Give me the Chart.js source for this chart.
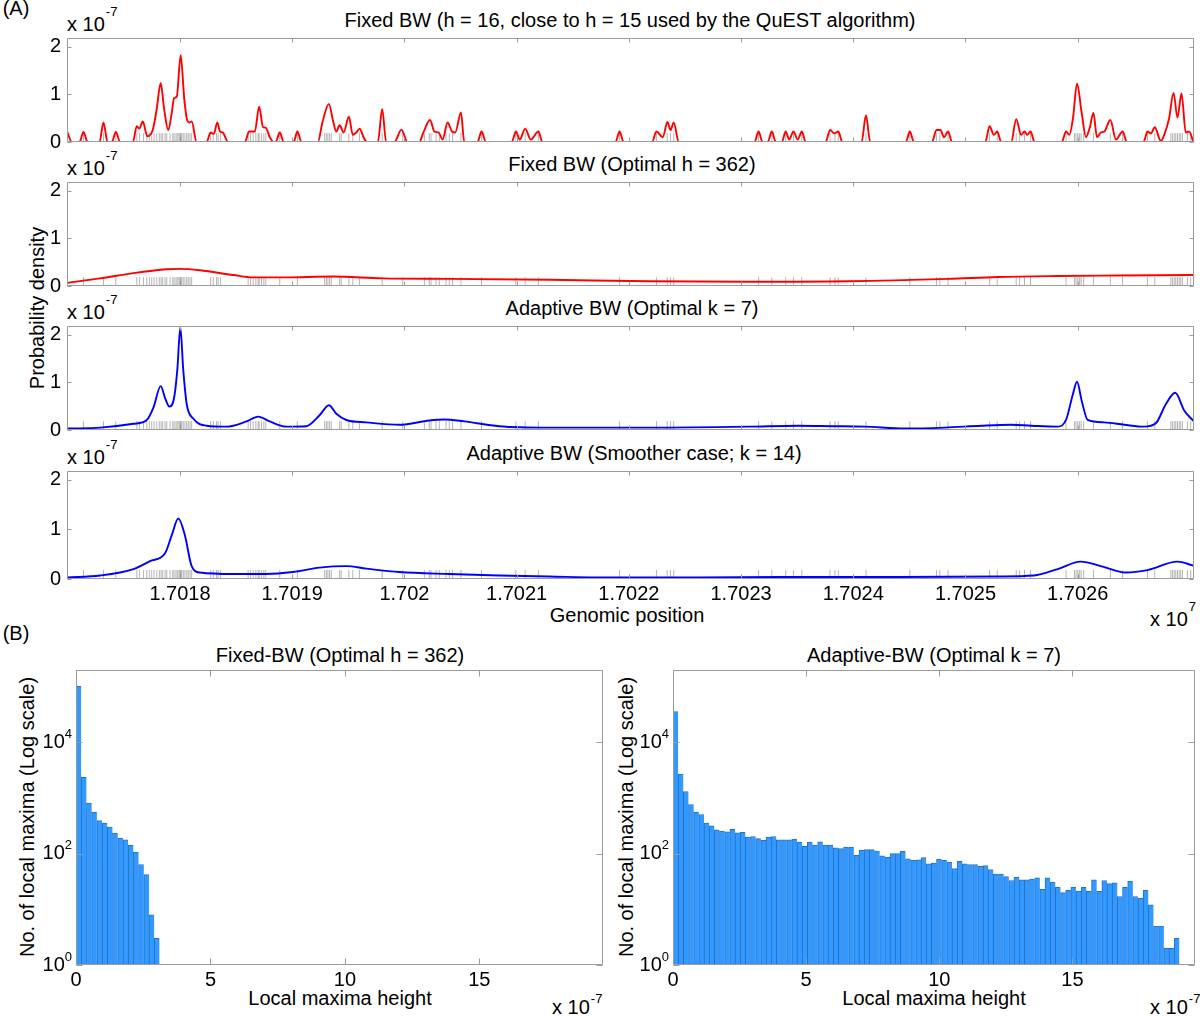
<!DOCTYPE html>
<html lang="en">
<head>
<meta charset="UTF-8">
<title>Kernel density estimates and local maxima</title>
<style>
  body {
    margin: 0;
    width: 1200px;
    height: 1016px;
    position: relative;
    overflow: hidden;
    background: #fff;
    color: #000;
    font-family: "Liberation Sans", Arial, sans-serif;
  }
  canvas { position: absolute; }
  .t {
    position: absolute;
    font-size: 20px;
    line-height: 1;
    white-space: nowrap;
    transform: translate(-50%, -50%);
  }
  .rot { transform: translate(-50%, -50%) rotate(-90deg); }
  .mult {
    position: absolute;
    font-size: 20px;
    line-height: 1;
    white-space: nowrap;
  }
  .mult .sup {
    font-size: 13px;
    position: relative;
    top: -15px;
    margin-left: 1px;
  }
  .mult.small .sup { top: -11px; }
</style>
</head>
<body>
  <div class="t" style="left:16px;top:8px">(A)</div>
  <div class="t" style="left:16px;top:633px">(B)</div>

  <div class="t" style="left:630px;top:20px">Fixed BW (h = 16, close to h = 15 used by the QuEST algorithm)</div>
  <div class="t" style="left:632px;top:164px">Fixed BW (Optimal h = 362)</div>
  <div class="t" style="left:632px;top:308px">Adaptive BW (Optimal k = 7)</div>
  <div class="t" style="left:634px;top:453px">Adaptive BW (Smoother case; k = 14)</div>

  <div class="mult" style="left:67px;top:14px">x 10<span class="sup">-7</span></div>
  <div class="mult" style="left:67px;top:158px">x 10<span class="sup">-7</span></div>
  <div class="mult" style="left:67px;top:302px">x 10<span class="sup">-7</span></div>
  <div class="mult" style="left:67px;top:447px">x 10<span class="sup">-7</span></div>

  <div class="t rot" style="left:37px;top:308px">Probability density</div>
  <div class="t" style="left:627px;top:615px">Genomic position</div>
  <div class="mult" style="left:1150px;top:609px">x 10<span class="sup">7</span></div>

  <div class="t" style="left:340px;top:655px">Fixed-BW (Optimal h = 362)</div>
  <div class="t" style="left:934px;top:655px">Adaptive-BW (Optimal k = 7)</div>
  <div class="t rot" style="left:27px;top:817px">No. of local maxima (Log scale)</div>
  <div class="t rot" style="left:626px;top:817px">No. of local maxima (Log scale)</div>
  <div class="t" style="left:340px;top:998px">Local maxima height</div>
  <div class="t" style="left:934px;top:998px">Local maxima height</div>
  <div class="mult small" style="left:552px;top:997px">x 10<span class="sup">-7</span></div>
  <div class="mult small" style="left:1150px;top:997px">x 10<span class="sup">-7</span></div>

  <script src="https://cdn.jsdelivr.net/npm/chart.js@4"></script>
  <script>
    // ---- data (densities in units of 1e-7, positions in bp) ----
    const xTicks = [17018000, 17019000, 17020000, 17021000, 17022000, 17023000, 17024000, 17025000, 17026000];
    const xTickLabels = ['1.7018', '1.7019', '1.702', '1.7021', '1.7022', '1.7023', '1.7024', '1.7025', '1.7026'];
    const yTicks = [0, 1, 2];

    // mapped reads (rug under every panel)
    const readPos = [
      17016993, 17017140, 17017318, 17017428, 17017615, 17017638, 17017674, 17017704, 17017727, 17017748,
      17017769, 17017793, 17017816, 17017831, 17017846, 17017867, 17017882, 17017911, 17017935, 17017947,
      17017964, 17017976, 17017991, 17018000, 17018006, 17018015, 17018029, 17018044, 17018060, 17018074,
      17018089, 17018104, 17018273, 17018296, 17018326, 17018340, 17018362, 17018607, 17018628, 17018652,
      17018676, 17018696, 17018705, 17018726, 17018747, 17018764, 17018889, 17019046, 17019289, 17019304,
      17019318, 17019333, 17019348, 17019422, 17019437, 17019505, 17019540, 17019600, 17019802, 17019985,
      17020178, 17020222, 17020237, 17020282, 17020311, 17020371, 17020400, 17020429, 17020504, 17020687,
      17020993, 17021076, 17021194, 17021917, 17022246, 17022341, 17022371, 17022400, 17023156, 17023274,
      17023398, 17023467, 17023541, 17023793, 17023837, 17023867, 17024113, 17024504, 17024741, 17024771,
      17024845, 17025215, 17025283, 17025452, 17025482, 17025526, 17025580, 17025896, 17025971, 17025985,
      17026000, 17026015, 17026030, 17026053, 17026140, 17026291, 17026400, 17026622, 17026687, 17026830,
      17026845, 17026860, 17026874, 17026889, 17026904, 17026918, 17026933, 17026978, 17027007
    ];

    // Fixed BW, h = 16
    const fixedH16 = [
      [17016993, 0.22], [17017037, 0], [17017105, 0], [17017140, 0.21], [17017176, 0], [17017283, 0],
      [17017318, 0.41], [17017354, 0], [17017393, 0], [17017428, 0.21], [17017467, 0], [17017580, 0],
      [17017615, 0.33], [17017638, 0.28], [17017668, 0.43], [17017709, 0.12], [17017757, 0.25], [17017793, 0.7],
      [17017828, 1.24], [17017858, 0.7], [17017896, 0.25], [17017926, 0.6], [17017947, 0.92], [17017971, 0.95],
      [17018006, 1.82], [17018038, 0.9], [17018065, 0.45], [17018083, 0.41], [17018104, 0.43], [17018148, 0],
      [17018237, 0], [17018273, 0.2], [17018302, 0.17], [17018332, 0.41], [17018356, 0.22], [17018380, 0.2],
      [17018429, 0], [17018578, 0], [17018616, 0.22], [17018667, 0.22], [17018705, 0.74], [17018740, 0.31],
      [17018764, 0.3], [17018800, 0.1], [17018836, 0], [17018853, 0], [17018889, 0.2], [17018924, 0],
      [17019013, 0], [17019046, 0.22], [17019082, 0], [17019229, 0], [17019268, 0.4], [17019327, 0.8],
      [17019363, 0.45], [17019393, 0.22], [17019422, 0.35], [17019458, 0.2], [17019505, 0.53], [17019540, 0.15],
      [17019571, 0.2], [17019600, 0.28], [17019636, 0.1], [17019665, 0], [17019763, 0], [17019802, 0.69],
      [17019837, 0], [17019911, 0], [17019973, 0.26], [17020027, 0], [17020133, 0], [17020169, 0.2],
      [17020228, 0.46], [17020267, 0.22], [17020305, 0.2], [17020340, 0.05], [17020385, 0.41], [17020424, 0.22],
      [17020453, 0.2], [17020504, 0.62], [17020533, 0], [17020652, 0], [17020687, 0.22], [17020726, 0],
      [17020957, 0], [17020993, 0.22], [17021028, 0.05], [17021076, 0.28], [17021126, 0.05], [17021194, 0.22],
      [17021229, 0], [17021882, 0], [17021917, 0.22], [17021953, 0], [17022207, 0], [17022246, 0.22],
      [17022302, 0.1], [17022344, 0.42], [17022371, 0.25], [17022400, 0.41], [17022445, 0], [17023120, 0],
      [17023156, 0.22], [17023191, 0], [17023238, 0], [17023274, 0.22], [17023309, 0], [17023363, 0],
      [17023398, 0.22], [17023429, 0.05], [17023467, 0.22], [17023505, 0.05], [17023541, 0.22], [17023576, 0],
      [17023754, 0], [17023793, 0.25], [17023831, 0.18], [17023867, 0.22], [17023902, 0], [17024074, 0],
      [17024113, 0.56], [17024151, 0], [17024469, 0], [17024504, 0.22], [17024540, 0], [17024702, 0],
      [17024741, 0.25], [17024776, 0.25], [17024809, 0.1], [17024845, 0.22], [17024880, 0], [17025176, 0],
      [17025215, 0.33], [17025253, 0.15], [17025283, 0.22], [17025318, 0], [17025407, 0], [17025452, 0.48],
      [17025496, 0.15], [17025526, 0.22], [17025549, 0.15], [17025580, 0.22], [17025615, 0], [17025858, 0],
      [17025896, 0.22], [17025926, 0.15], [17025958, 0.5], [17025994, 1.22], [17026036, 0.6], [17026074, 0.1],
      [17026107, 0.3], [17026140, 0.61], [17026172, 0.1], [17026207, 0.2], [17026237, 0.22], [17026291, 0.46],
      [17026341, 0.05], [17026400, 0.22], [17026438, 0], [17026587, 0], [17026622, 0.22], [17026652, 0.18],
      [17026687, 0.31], [17026741, 0.02], [17026771, 0.15], [17026815, 0.5], [17026854, 1.03], [17026889, 0.51],
      [17026925, 1.02], [17026963, 0.2], [17026993, 0.22], [17027031, 0]
    ];

    // Fixed BW, optimal h = 362
    const fixedH362 = [
      [17016993, 0.065], [17017289, 0.16], [17017585, 0.27], [17017882, 0.35], [17018000, 0.36],
      [17018178, 0.33], [17018474, 0.23], [17018652, 0.18], [17018918, 0.18], [17019363, 0.2],
      [17019807, 0.16], [17020400, 0.15], [17021289, 0.13], [17022178, 0.1], [17023067, 0.09],
      [17023956, 0.1], [17024845, 0.15], [17025289, 0.19], [17025822, 0.21], [17026356, 0.22], [17027031, 0.23]
    ];

    // Adaptive BW, optimal k = 7
    const adaptiveK7 = [
      [17016993, 0.03], [17017289, 0.05], [17017585, 0.13], [17017704, 0.21], [17017763, 0.47], [17017828, 0.92],
      [17017867, 0.67], [17017905, 0.49], [17017947, 0.67], [17017976, 1.26], [17018003, 2.15], [17018029, 1.26],
      [17018060, 0.54], [17018118, 0.24], [17018237, 0.09], [17018415, 0.07], [17018593, 0.18], [17018696, 0.28],
      [17018800, 0.18], [17018948, 0.07], [17019126, 0.08], [17019244, 0.31], [17019327, 0.52], [17019393, 0.34],
      [17019482, 0.21], [17019660, 0.16], [17019956, 0.11], [17020222, 0.2], [17020356, 0.22], [17020533, 0.18],
      [17020844, 0.08], [17021289, 0.05], [17022178, 0.05], [17023067, 0.07], [17023511, 0.09], [17023807, 0.08],
      [17024104, 0.07], [17024460, 0.03], [17024815, 0.05], [17025141, 0.09], [17025407, 0.11], [17025585, 0.09],
      [17025822, 0.07], [17025896, 0.21], [17025956, 0.74], [17025994, 1.01], [17026036, 0.61], [17026089, 0.21],
      [17026237, 0.16], [17026415, 0.11], [17026593, 0.07], [17026696, 0.14], [17026785, 0.54], [17026869, 0.78],
      [17026949, 0.41], [17027031, 0.19]
    ];

    // Adaptive BW, smoother case k = 14
    const adaptiveK14 = [
      [17016993, 0.03], [17017289, 0.07], [17017585, 0.2], [17017733, 0.36], [17017867, 0.52], [17017926, 0.88],
      [17017985, 1.22], [17018044, 0.88], [17018104, 0.26], [17018178, 0.13], [17018474, 0.1], [17018771, 0.1],
      [17019007, 0.14], [17019244, 0.23], [17019482, 0.26], [17019660, 0.21], [17019956, 0.14], [17020400, 0.1],
      [17020844, 0.07], [17021289, 0.05], [17021911, 0.03], [17022622, 0.03], [17023333, 0.04], [17024400, 0.04],
      [17025289, 0.05], [17025609, 0.07], [17025822, 0.2], [17026027, 0.35], [17026222, 0.25], [17026427, 0.13],
      [17026622, 0.18], [17026889, 0.35], [17027031, 0.27]
    ];

    // histograms of local-maxima heights (units of 1e-7)
    const binWidth = 0.194;
    const fixedHistCounts = [103000, 2350, 815, 560, 395, 355, 300, 235, 190, 178, 141, 107, 64, 42, 8, 3];
    const adaptiveHistCounts = [
      35900, 2710, 1310, 765, 558, 506, 354, 317, 269, 255, 248, 273, 238, 241, 199, 204, 186, 173, 199, 204,
      178, 178, 178, 183, 162, 135, 162, 143, 164, 143, 143, 128, 123, 132, 132, 93, 115, 118, 118, 112,
      92, 87, 100, 100, 110, 81, 76, 78, 85, 66, 68, 80, 76, 71, 54, 73, 66, 64, 64, 59,
      61, 52, 43, 43, 39, 33, 38, 34, 34, 35, 37, 23, 37, 31, 25, 20, 22, 25, 21, 25,
      21, 34, 21, 33, 29, 30, 17, 25, 32, 17, 16, 22, 12, 5, 5, 2, 2, 3
    ];
    const histXTicks = [0, 5, 10, 15];
    const logTicks = [1, 100, 10000];
    const logTickExps = ['0', '2', '4'];

    // ---- layout ----
    const X_MIN = 17016993, X_MAX = 17027040, Y_MAX = 2.18;
    const PLOT_LEFT = 67, PLOT_RIGHT = 1197, PLOT_H = 112;
    const panelTops = [34, 178, 322, 467];
    const RUG_Y = 0.09;
    const FONT = '"Liberation Sans", Arial, sans-serif';

    Chart.defaults.font.family = FONT;
    Chart.defaults.font.size = 20;
    Chart.defaults.color = '#000';
    Chart.defaults.animation = false;
    Chart.defaults.plugins.legend.display = false;
    Chart.defaults.plugins.tooltip.enabled = false;

    // box round the axes with small inward ticks (MATLAB style)
    const frame = {
      id: 'frame',
      afterDatasetsDraw(chart, args, opts) {
        const { ctx, chartArea: a, scales: { x, y } } = chart;
        const L = Math.round(a.left) + 0.5, R = Math.round(a.right) - 0.5;
        const T = Math.round(a.top) + 0.5, B = Math.round(a.bottom) - 0.5;
        const n = opts.tick || 4;
        ctx.save();
        ctx.strokeStyle = '#9b9b9b';
        ctx.lineWidth = 1;
        ctx.beginPath();
        ctx.rect(L, T, R - L, B - T);
        x.ticks.forEach(t => {
          const px = Math.round(x.getPixelForValue(t.value)) + 0.5;
          ctx.moveTo(px, T); ctx.lineTo(px, T + n);
          ctx.moveTo(px, B); ctx.lineTo(px, B - n);
        });
        y.ticks.forEach(t => {
          const py = Math.round(y.getPixelForValue(t.value)) + 0.5;
          ctx.moveTo(L, py); ctx.lineTo(L + n, py);
          ctx.moveTo(R, py); ctx.lineTo(R - n, py);
        });
        ctx.stroke();
        ctx.restore();
      }
    };

    // 10^n labels for the log axes
    const powLabels = {
      id: 'powLabels',
      afterDraw(chart) {
        const { ctx, chartArea: a, scales: { y } } = chart;
        ctx.save();
        ctx.fillStyle = '#000';
        ctx.textBaseline = 'middle';
        y.ticks.forEach((t, i) => {
          const py = y.getPixelForValue(t.value);
          const exp = logTickExps[i];
          ctx.font = '13px ' + FONT;
          const ex = a.left - 4 - ctx.measureText(exp).width;
          ctx.textAlign = 'left';
          ctx.fillText(exp, ex, py - 8);
          ctx.font = '20px ' + FONT;
          ctx.textAlign = 'right';
          ctx.fillText('10', ex, py);
        });
        ctx.restore();
      }
    };

    function makeCanvas(left, top, w, h) {
      const c = document.createElement('canvas');
      c.width = w;
      c.height = h;
      c.style.left = left + 'px';
      c.style.top = top + 'px';
      document.body.appendChild(c);
      return c;
    }

    function densityPanel(idx, series, color) {
      const last = idx === 3;
      const padTop = 14, padBottom = last ? 20 : 14, axisH = last ? 28 : 0;
      const c = makeCanvas(0, panelTops[idx] - padTop, 1200, PLOT_H + padTop + padBottom + axisH);
      new Chart(c, {
        type: 'line',
        data: {
          datasets: [
            {
              data: series.map(p => ({ x: p[0], y: p[1] })),
              borderColor: color,
              borderWidth: 1.9,
              pointRadius: 0,
              cubicInterpolationMode: 'monotone',
              order: 1
            },
            {
              data: readPos.map(x => ({ x: x, y: RUG_Y })),
              showLine: false,
              pointStyle: 'line',
              pointRotation: 90,
              pointRadius: 4.6,
              pointBorderColor: 'rgba(90,90,90,0.45)',
              pointBorderWidth: 1,
              order: 2
            }
          ]
        },
        options: {
          responsive: false,
          layout: { padding: { left: 0, right: 1200 - PLOT_RIGHT, top: padTop, bottom: padBottom } },
          scales: {
            x: {
              type: 'linear', min: X_MIN, max: X_MAX, display: last, offset: false,
              grid: { display: false, drawTicks: false }, border: { display: false },
              afterBuildTicks: s => { s.ticks = xTicks.map(v => ({ value: v })); },
              ticks: { autoSkip: false, maxRotation: 0, padding: 3, callback: (v, i) => xTickLabels[i] },
              afterFit: s => { s.height = axisH; }
            },
            y: {
              type: 'linear', min: 0, max: Y_MAX,
              grid: { display: false, drawTicks: false }, border: { display: false },
              afterBuildTicks: s => { s.ticks = yTicks.map(v => ({ value: v })); },
              ticks: { padding: 6, callback: v => String(v) },
              afterFit: s => { s.width = PLOT_LEFT; }
            }
          },
          plugins: { frame: { tick: 4 } }
        },
        plugins: [frame]
      });
    }

    function histPanel(left, width, axisLeft, padRight, counts) {
      const top = 660;
      const c = makeCanvas(left, top, width, 1016 - top);
      new Chart(c, {
        type: 'bar',
        data: {
          datasets: [{
            data: counts.map((n, i) => ({ x: (i + 0.5) * binWidth, y: n })),
            backgroundColor: '#3399ff',
            borderColor: '#2372c8',
            borderWidth: { left: 1, top: 1, right: 0, bottom: 0 },
            barPercentage: 1,
            categoryPercentage: 1
          }]
        },
        options: {
          responsive: false,
          layout: { padding: { left: 0, right: padRight, top: 10, bottom: 23 } },
          scales: {
            x: {
              type: 'linear', min: 0, max: 19.6, offset: false,
              grid: { display: false, drawTicks: false }, border: { display: false },
              afterBuildTicks: s => { s.ticks = histXTicks.map(v => ({ value: v })); },
              ticks: { autoSkip: false, maxRotation: 0, padding: 3 },
              afterFit: s => { s.height = 28; }
            },
            y: {
              type: 'logarithmic', min: 1, max: 200000,
              grid: { display: false, drawTicks: false }, border: { display: false },
              afterBuildTicks: s => { s.ticks = logTicks.map(v => ({ value: v })); },
              ticks: { display: false },
              afterFit: s => { s.width = axisLeft; }
            }
          },
          plugins: { frame: { tick: 6 } }
        },
        plugins: [frame, powLabels]
      });
    }

    densityPanel(0, fixedH16, '#ff0000');
    densityPanel(1, fixedH362, '#ff0000');
    densityPanel(2, adaptiveK7, '#0000ff');
    densityPanel(3, adaptiveK14, '#0000ff');

    histPanel(0, 610, 76, 7, fixedHistCounts);
    histPanel(600, 600, 73, 5, adaptiveHistCounts);
  </script>
</body>
</html>
